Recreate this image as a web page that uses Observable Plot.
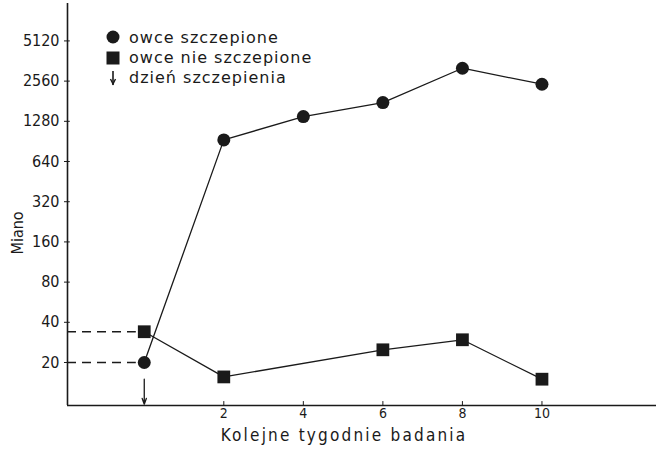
<!DOCTYPE html>
<html><head><meta charset="utf-8">
<script src="https://cdn.jsdelivr.net/npm/d3@7"></script>
<script src="https://cdn.jsdelivr.net/npm/@observablehq/plot@0.6"></script>
<style>
html,body{margin:0;padding:0;background:#fff;}
#wrap{position:relative;width:656px;height:449px;overflow:hidden;}
#legend{position:absolute;left:104px;top:27px;font-family:"DejaVu Sans",sans-serif;font-size:16px;letter-spacing:1px;color:#1a1a1a;}
#legend div{height:20.4px;display:flex;align-items:center;white-space:nowrap;}
#legend svg{width:18px;height:18px;margin-right:7px;flex:none;}
</style>
</head><body>
<div id="wrap"><div id="legend"></div></div>
<script>
// Data (log2 "Miano" titre vs week of study)
const weeksVaccinated = [0, 2, 4, 6, 8, 10];
const titreVaccinated = [20, 929, 1389, 1767, 3197, 2426];
const weeksUnvaccinated = [0, 2, 6, 8, 10];
const titreUnvaccinated = [34, 15.6, 24.9, 29.6, 15];
const yTicks = [20, 40, 80, 160, 320, 640, 1280, 2560, 5120];
const xTicks = [2, 4, 6, 8, 10];
const dashedLevels = [20, 34];
const vaccinationWeek = [0];
const arrowFromTo = [15, 9.75];
const legendLabels = ["owce szczepione", "owce nie szczepione", "dzień szczepienia"];
const yLabel = "Miano";
const xLabel = "Kolejne tygodnie badania";

const xDomain = [-1.93, 12.88];
const yDomain = [9.53, 9760];
const ink = "#1a1a1a";
const font = "DejaVu Sans Condensed, DejaVu Sans, sans-serif";

const vac = weeksVaccinated.map((w, i) => ({week: w, titre: titreVaccinated[i]}));
const unvac = weeksUnvaccinated.map((w, i) => ({week: w, titre: titreUnvaccinated[i]}));

const chart = Plot.plot({
  width: 656, height: 449,
  marginLeft: 67, marginRight: 0, marginTop: 3, marginBottom: 44,
  style: {background: "#fff", color: ink, fontFamily: font},
  x: {domain: xDomain, axis: null},
  y: {type: "log", base: 2, domain: yDomain, axis: null},
  marks: [
    Plot.ruleX([xDomain[0]], {stroke: ink, strokeWidth: 1.6}),
    Plot.ruleY([yDomain[0]], {stroke: ink, strokeWidth: 1.6}),
    Plot.axisY({ticks: yTicks, tickSize: 3, tickPadding: 5, tickFormat: d => String(d), fontSize: 16, label: null, stroke: ink}),
    Plot.ruleY(yTicks, {x1: xDomain[0], x2: xDomain[0] + 0.07, stroke: ink}),
    Plot.axisX({ticks: xTicks, tickSize: 0, tickPadding: 3, fontSize: 14, label: null}),
    Plot.ruleX(xTicks, {y1: yDomain[0], y2: yDomain[0] * 1.07, stroke: ink}),
    Plot.text([yLabel], {frameAnchor: "left", rotate: -90, dx: -50, dy: 50, fontSize: 16, fill: ink}),
    Plot.text([xLabel], {frameAnchor: "bottom", dx: -18, dy: 35, fontSize: 17, fill: ink}),
    Plot.ruleY(dashedLevels, {x1: xDomain[0], x2: -0.2, stroke: ink, strokeWidth: 1.4, strokeDasharray: "9,6"}),
    Plot.arrow(vaccinationWeek, {x1: d => d, x2: d => d, y1: arrowFromTo[0], y2: arrowFromTo[1], stroke: ink, strokeWidth: 1.3, headLength: 7, headAngle: 40}),
    Plot.line(vac, {x: "week", y: "titre", stroke: ink, strokeWidth: 1.3}),
    Plot.line(unvac, {x: "week", y: "titre", stroke: ink, strokeWidth: 1.3}),
    Plot.dot(vac, {x: "week", y: "titre", r: 6.5, fill: ink, stroke: "none"}),
    Plot.dot(unvac, {x: "week", y: "titre", r: 7.2, symbol: "square", fill: ink, stroke: "none"})
  ]
});
// widen the hand-lettered x label like the original
d3.select(chart).selectAll("text").filter(function() { return this.textContent === xLabel; })
  .style("letter-spacing", "2.2px");
const wrap = document.getElementById("wrap");
wrap.insertBefore(chart, wrap.firstChild);

const icons = [
  '<svg viewBox="0 0 18 18"><circle cx="9" cy="9" r="6.5" fill="#1a1a1a"/></svg>',
  '<svg viewBox="0 0 18 18"><rect x="2.5" y="2.5" width="13" height="13" fill="#1a1a1a"/></svg>',
  '<svg viewBox="0 0 18 18"><line x1="9" y1="2" x2="9" y2="16" stroke="#1a1a1a" stroke-width="1.6"/><path d="M6.5 10 L9 15 L11.5 10" fill="none" stroke="#1a1a1a" stroke-width="1.4"/></svg>'
];
const legend = document.getElementById("legend");
legendLabels.forEach((t, i) => {
  const row = document.createElement("div");
  row.innerHTML = icons[i] + "<span></span>";
  row.querySelector("span").textContent = t;
  legend.appendChild(row);
});
</script>
</body></html>
